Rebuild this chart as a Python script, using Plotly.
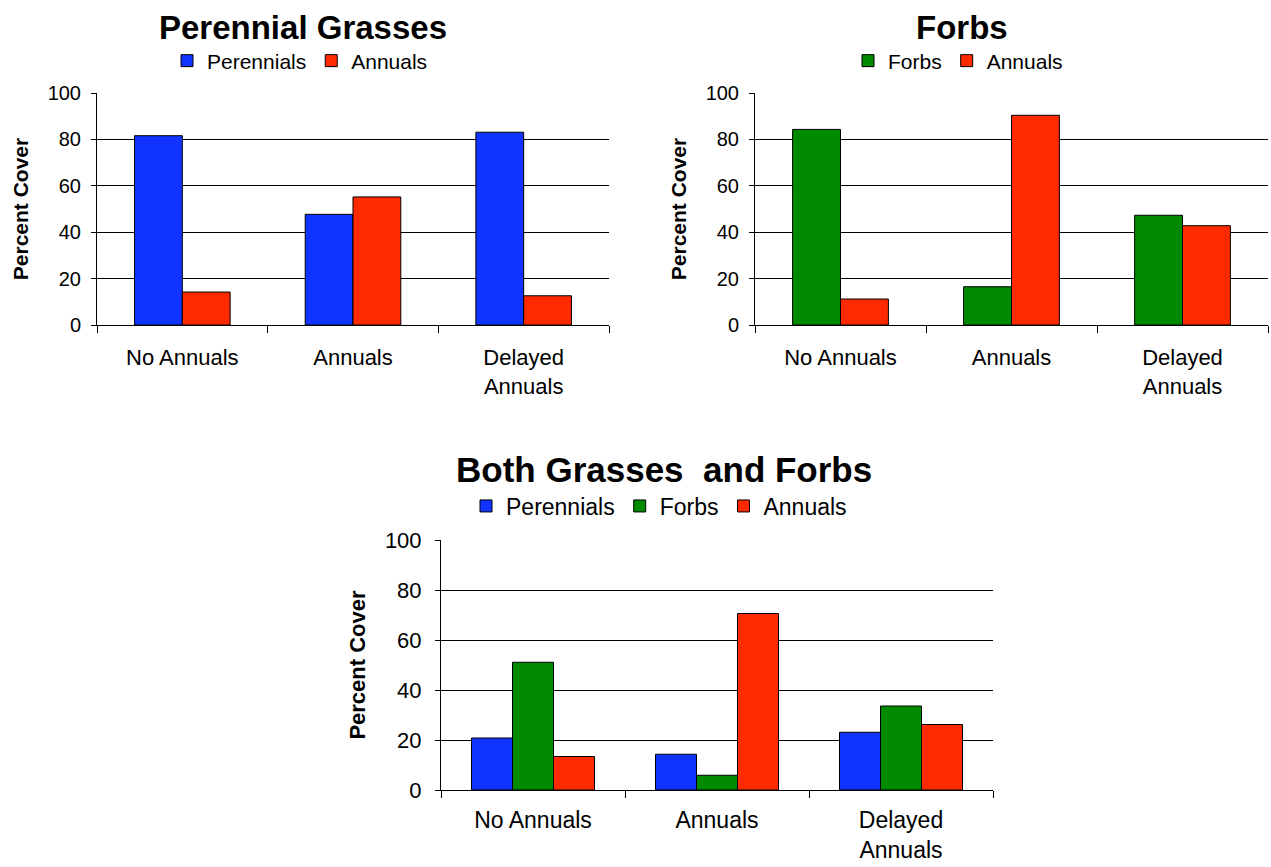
import plotly.graph_objects as go

# Treatments shown on every panel
categories = ["No Annuals", "Annuals", "Delayed<br>Annuals"]

# Panel 1: perennial grasses
pg_perennials = [81.6, 47.7, 83.1]
pg_annuals = [14.2, 55.2, 12.6]

# Panel 2: forbs
fb_forbs = [84.3, 16.5, 47.3]
fb_annuals = [11.2, 90.4, 42.8]

# Panel 3: both grasses and forbs
bo_perennials = [20.8, 14.3, 23.1]
bo_forbs = [51.1, 5.9, 33.6]
bo_annuals = [13.4, 70.6, 26.2]

y_ticks = [0, 20, 40, 60, 80, 100]

BLUE = "#1133FF"
GREEN = "#008A00"
RED = "#FF2A00"
FONT = "Liberation Sans, Arial, sans-serif"

W, H = 1271, 867


def px_x(px):
    return px / W


def px_y(px):
    return 1 - px / H


fig = go.Figure()


def add_bar(name, values, color, axis_idx, legend, width, offset):
    sfx = "" if axis_idx == 1 else str(axis_idx)
    fig.add_trace(go.Bar(
        name=name, x=categories, y=values,
        marker=dict(color=color, line=dict(color="black", width=1)),
        width=width, offset=offset,
        xaxis="x" + sfx, yaxis="y" + sfx,
        legend=legend, showlegend=True,
    ))


# two-series panels: each bar ~28% of a category slot
w2 = 0.28
add_bar("Perennials", pg_perennials, BLUE, 1, "legend", w2, -w2)
add_bar("Annuals", pg_annuals, RED, 1, "legend", w2, 0)
add_bar("Forbs", fb_forbs, GREEN, 2, "legend2", w2, -w2)
add_bar("Annuals", fb_annuals, RED, 2, "legend2", w2, 0)

# three-series panel
w3 = 0.2228
add_bar("Perennials", bo_perennials, BLUE, 3, "legend3", w3, -1.5 * w3)
add_bar("Forbs", bo_forbs, GREEN, 3, "legend3", w3, -0.5 * w3)
add_bar("Annuals", bo_annuals, RED, 3, "legend3", w3, 0.5 * w3)


def xaxis_style(x0, x1, anchor, fsize, standoff):
    return dict(
        domain=[px_x(x0), px_x(x1)], anchor=anchor,
        type="category", categoryorder="array", categoryarray=categories,
        range=[-0.5, 2.5], automargin=False,
        showline=True, linecolor="black", linewidth=1,
        ticks="outside", tickson="boundaries", ticklen=7, tickcolor="black", tickwidth=1,
        showgrid=False, zeroline=False,
        tickfont=dict(family=FONT, size=fsize, color="black"),
        ticklabelstandoff=standoff,
    )


def yaxis_style(y0, y1, anchor, fsize, tsize, label_gap, title_gap):
    return dict(
        domain=[px_y(y1), px_y(y0)], anchor=anchor,
        range=[0, 100], tickvals=y_ticks, automargin=False,
        showline=True, linecolor="black", linewidth=1,
        ticks="outside", ticklen=5, tickcolor="black", tickwidth=1,
        showgrid=True, gridcolor="black", gridwidth=1, zeroline=False,
        tickfont=dict(family=FONT, size=fsize, color="black"),
        ticklabelstandoff=label_gap,
        title=dict(text="<b>Percent Cover</b>", standoff=title_gap,
                   font=dict(family=FONT, size=tsize, color="black")),
    )


def legend_style(cx, cy, fsize):
    return dict(
        x=px_x(cx), y=px_y(cy),
        orientation="h", xanchor="center", yanchor="middle",
        font=dict(family=FONT, size=fsize, color="black"),
        bgcolor="rgba(0,0,0,0)", traceorder="normal", itemwidth=30,
    )


fig.update_layout(
    width=W, height=H, autosize=False,
    margin=dict(l=0, r=0, t=0, b=0, autoexpand=False),
    paper_bgcolor="white", plot_bgcolor="white",
    barmode="overlay",
    font=dict(family=FONT, color="black"),
    xaxis=xaxis_style(97, 609, "y", 22, 13),
    yaxis=yaxis_style(93, 325, "x", 20, 21, 6, 13),
    xaxis2=xaxis_style(755, 1268, "y2", 22, 13),
    yaxis2=yaxis_style(93, 325, "x2", 20, 21, 6, 13),
    xaxis3=xaxis_style(441, 993, "y3", 23, 9),
    yaxis3=yaxis_style(540, 790, "x3", 22, 22, 9, 13),
    legend=legend_style(300, 61, 21),
    legend2=legend_style(958, 61, 21),
    legend3=legend_style(659, 506, 23),
)

titles = [
    ("Perennial Grasses", 303, 28, 33),
    ("Forbs", 962, 28, 33),
    ("Both Grasses\u00a0 and Forbs", 664, 469, 35),
]
for text, cx, cy, fsize in titles:
    fig.add_annotation(
        text="<b>" + text + "</b>", x=px_x(cx), y=px_y(cy),
        xref="paper", yref="paper", xanchor="center", yanchor="middle",
        showarrow=False, font=dict(family=FONT, size=fsize, color="black"),
    )

fig.write_html("out.html")
